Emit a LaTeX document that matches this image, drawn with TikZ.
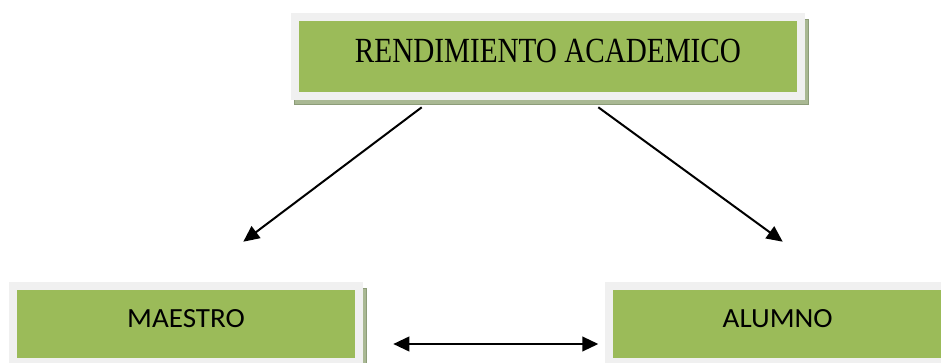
\documentclass[tikz,border=0pt]{standalone}
\usepackage{fontspec}
\setmainfont{Liberation Serif}
\newfontfamily\calib{Carlito}
\usetikzlibrary{arrows.meta}
\definecolor{boxgreen}{HTML}{9BBB59}
\definecolor{framegray}{HTML}{F0F0F0}
\definecolor{shadowgreen}{HTML}{A9B893}
\definecolor{shadowdark}{HTML}{8C9C78}
\tikzset{
  greenbox/.style={rectangle, fill=boxgreen, draw=framegray, line width=6pt, inner sep=0pt, anchor=center},
  shadowband/.style={fill=shadowgreen, draw=shadowdark, line width=0.4pt},
  conn/.style={line width=1.5pt, -{Triangle[length=12pt,width=11pt]}},
  biconn/.style={line width=1.5pt, {Triangle[length=12pt,width=11pt]}-{Triangle[length=12pt,width=11pt]}}
}
\begin{document}
\begin{tikzpicture}[x=0.75pt,y=-0.75pt]
\clip (0,0) rectangle (941,363);
\fill[white] (0,0) rectangle (941,363);
% shadows
\path[shadowband] (294,19) rectangle (808,104);
\path[shadowband] (300,288) rectangle (366,380);
% boxes
\node[greenbox, minimum width=379.5pt, minimum height=59.25pt, text height=17.55pt, text depth=7.95pt]
  (top) at (548,56.5) {\resizebox{289.5pt}{17.55pt}{RENDIMIENTO ACADEMICO}};
\node[greenbox, minimum width=259.5pt, minimum height=57pt, text height=13.5pt, text depth=8.55pt]
  (maestro) at (186,324) {\resizebox{88.2pt}{13.5pt}{\calib MAESTRO}};
\node[greenbox, minimum width=253pt, minimum height=57pt, text height=13.5pt, text depth=8.55pt]
  (alumno) at (777.7,324) {\resizebox{82.5pt}{13.5pt}{\calib ALUMNO}};
% connector end points
\coordinate (ls) at (421.7,107.3);
\coordinate (le) at (243.3,241.7);
\coordinate (rs) at (598.3,107.3);
\coordinate (re) at (782.7,241.7);
\coordinate (ma) at (393.3,344);
\coordinate (al) at (598.3,344);
\draw[conn] (ls) -- (le);
\draw[conn] (rs) -- (re);
\draw[biconn] (ma) -- (al);
\end{tikzpicture}
\end{document}
